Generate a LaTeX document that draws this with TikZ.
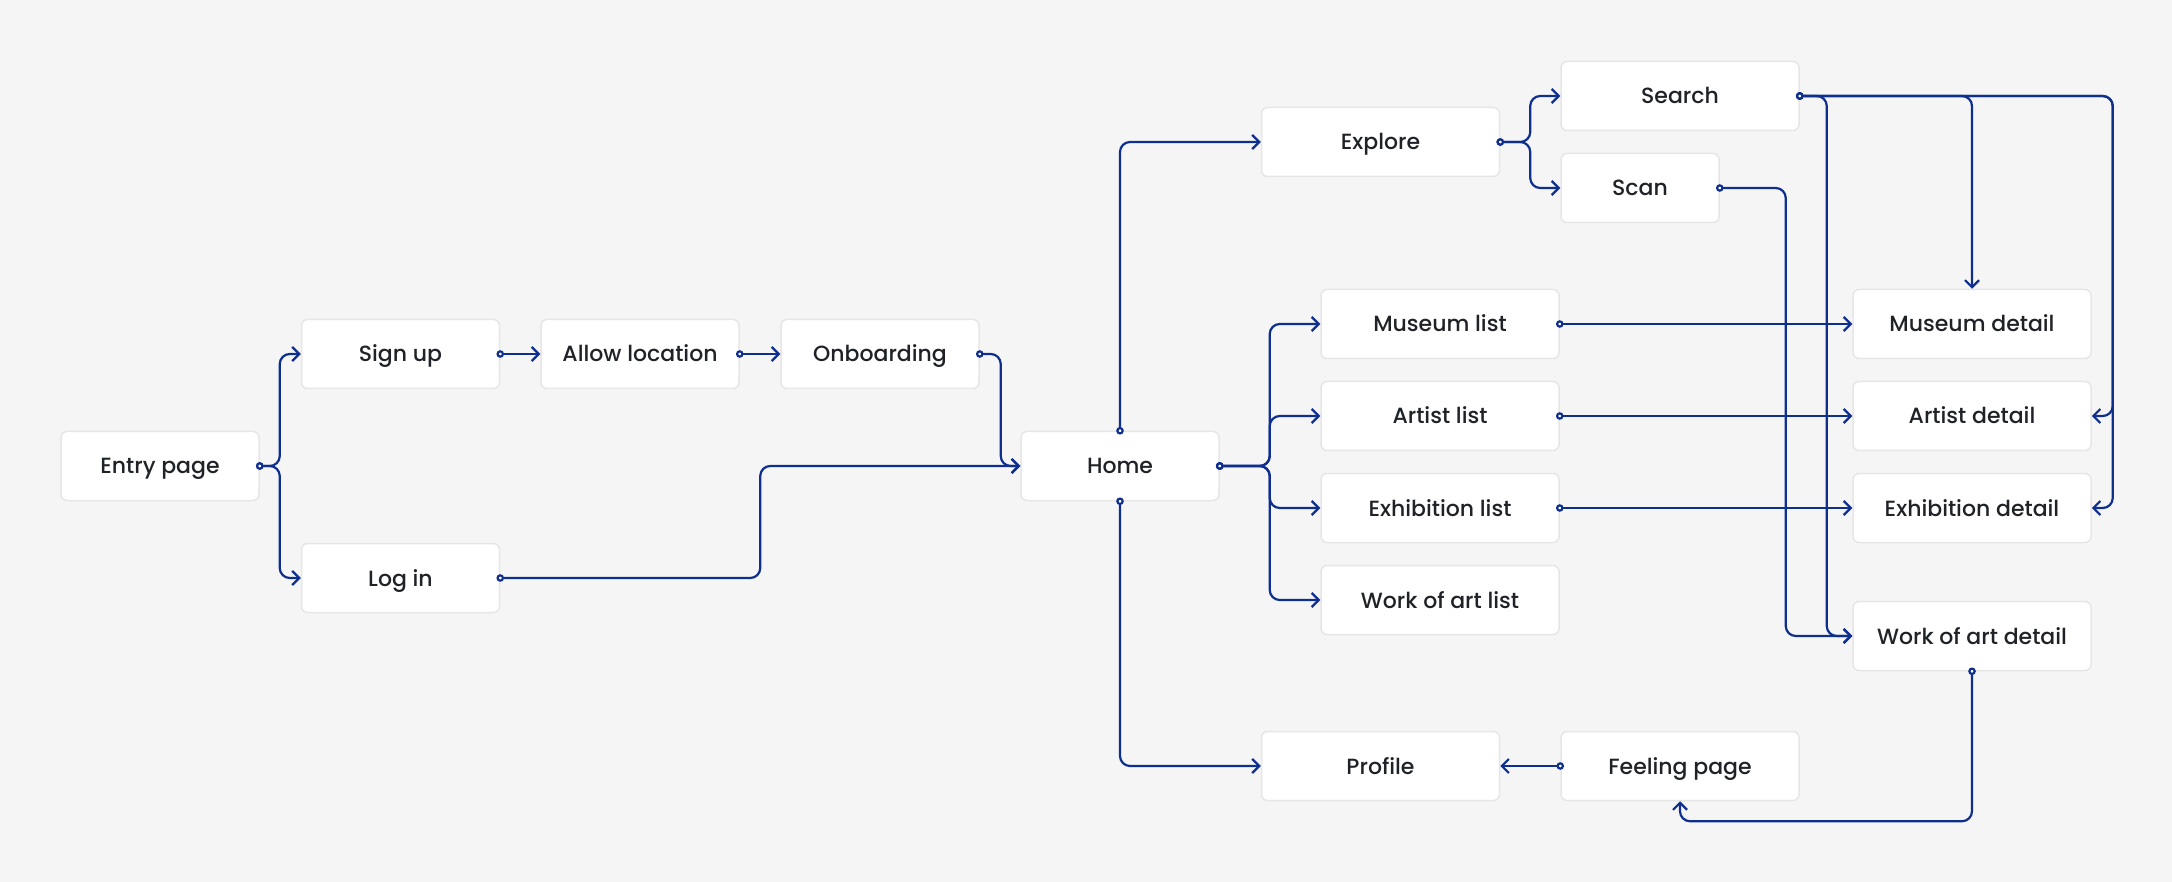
\documentclass[tikz,border=0pt]{standalone}
\usepackage{fontspec}
\setmainfont{Poppins}
\newfontfamily\medfont{Poppins Medium}
\usetikzlibrary{arrows.meta}
\definecolor{bg}{HTML}{F5F5F5}
\definecolor{edgegray}{HTML}{E6E6E6}
\definecolor{link}{HTML}{0E2F8E}
\definecolor{ink}{HTML}{1F2227}
\begin{document}
\begin{tikzpicture}[x=1pt,y=-1pt,
  box/.style={draw=edgegray, line width=1.5pt, fill=white, rounded corners=6pt,
    minimum height=69pt, inner sep=0pt, text height=20pt, text depth=4pt,
    text=ink, font=\medfont\fontsize{22}{26}\selectfont},
  wa/.style={box, minimum width=198pt},
  wb/.style={box, minimum width=238pt},
  wc/.style={box, minimum width=158pt},
  conn/.style={draw=link, line width=2.2pt, rounded corners=10pt,
    {Circle[length=7.5pt,width=7.5pt,fill=white]}-{Straight Barb[length=7pt,width=14pt]},
    shorten <=-3.75pt}]
\fill[bg] (0,0) rectangle (2172,882);
\useasboundingbox (0,0) rectangle (2172,882);

\node[wa] (entry) at (160,466) {Entry page};
\node[wa] (signup) at (400.5,354) {Sign up};
\node[wa] (login) at (400.5,578) {Log in};
\node[wa] (allow) at (640,354) {Allow location};
\node[wa] (onboard) at (880,354) {Onboarding};
\node[wa] (home) at (1120,466) {Home};
\node[wb] (explore) at (1380.5,142) {Explore};
\node[wb] (search) at (1680,96) {Search};
\node[wc] (scan) at (1640,188) {Scan};
\node[wb] (mlist) at (1440,324) {Museum list};
\node[wb] (alist) at (1440,416) {Artist list};
\node[wb] (elist) at (1440,508) {Exhibition list};
\node[wb] (wlist) at (1440,600) {Work of art list};
\node[wb] (mdet) at (1972,324) {Museum detail};
\node[wb] (adet) at (1972,416) {Artist detail};
\node[wb] (edet) at (1972,508) {Exhibition detail};
\node[wb] (wdet) at (1972,636) {Work of art detail};
\node[wb] (profile) at (1380.5,766) {Profile};
\node[wb] (feeling) at (1680,766) {Feeling page};

\draw[conn] (entry.east) -- ++(20,0) |- (signup.west);
\draw[conn] (entry.east) -- ++(20,0) |- (login.west);
\draw[conn] (signup.east) -- (allow.west);
\draw[conn] (allow.east) -- (onboard.west);
\draw[conn] (onboard.east) -- ++(21,0) |- (home.west);
\draw[conn] (login.east) -- ++(260,0) |- (home.west);
\draw[conn] (home.north) |- (explore.west);
\draw[conn] (home.south) |- (profile.west);
\draw[conn] (home.east) -- ++(50,0) |- (mlist.west);
\draw[conn] (home.east) -- ++(50,0) |- (alist.west);
\draw[conn] (home.east) -- ++(50,0) |- (elist.west);
\draw[conn] (home.east) -- ++(50,0) |- (wlist.west);
\draw[conn] (explore.east) -- ++(30,0) |- (search.west);
\draw[conn] (explore.east) -- ++(30,0) |- (scan.west);
\draw[conn] (search.east) -| (mdet.north);
\draw[conn] (search.east) -| ([xshift=21pt]adet.east) -- (adet.east);
\draw[conn] (search.east) -| ([xshift=21pt]edet.east) -- (edet.east);
\draw[conn] (search.east) -- ++(27,0) |- (wdet.west);
\draw[conn] (scan.east) -- ++(66,0) |- (wdet.west);
\draw[conn] (mlist.east) -- (mdet.west);
\draw[conn] (alist.east) -- (adet.west);
\draw[conn] (elist.east) -- (edet.west);
\draw[conn] (wdet.south) -- ++(0,150) -| (feeling.south);
\draw[conn] (feeling.west) -- (profile.east);
\end{tikzpicture}
\end{document}
